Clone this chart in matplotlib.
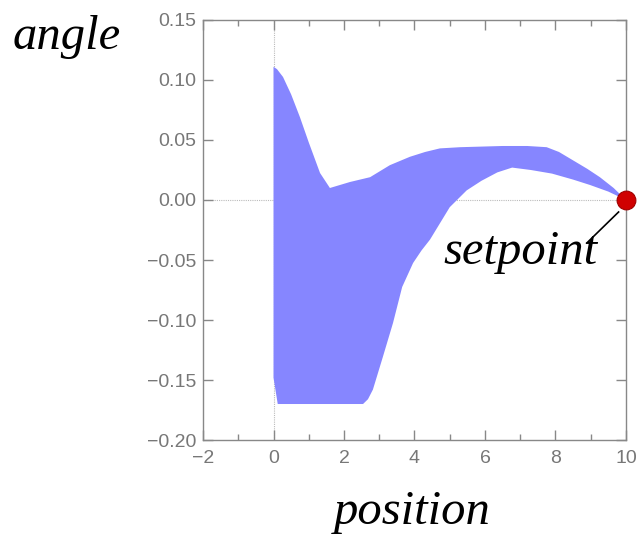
import matplotlib
matplotlib.use("Agg")
import matplotlib.pyplot as plt

# upper and lower edge of the shaded region (position, angle)
upper_x = [0, 0.1, 0.27, 0.5, 0.75, 1.0, 1.32, 1.6, 2.17, 2.74, 3.3, 3.87, 4.3, 4.72, 5.3, 6.5, 7.2, 7.75, 8.1, 8.5, 8.9, 9.26, 9.65, 10]
upper_y = [0.111, 0.109, 0.1025, 0.088, 0.069, 0.048, 0.0225, 0.01, 0.015, 0.019, 0.029, 0.036, 0.040, 0.043, 0.044, 0.045, 0.045, 0.044, 0.04, 0.033, 0.026, 0.019, 0.01, 0.0]
lower_x = [0, 0.12, 2.54, 2.68, 2.82, 3.1, 3.39, 3.65, 3.96, 4.2, 4.44, 5.0, 5.48, 5.9, 6.35, 6.77, 7.3, 7.9, 8.5, 8.98, 9.5, 10]
lower_y = [-0.148, -0.17, -0.17, -0.166, -0.158, -0.131, -0.1025, -0.0725, -0.0525, -0.042, -0.033, -0.006, 0.008, 0.016, 0.023, 0.027, 0.025, 0.022, 0.017, 0.0125, 0.007, 0.0]

setpoint = (10, 0.0)
xticks = [-2, 0, 2, 4, 6, 8, 10]
yticks = [-0.20, -0.15, -0.10, -0.05, 0.00, 0.05, 0.10, 0.15]

fig = plt.figure(figsize=(6.37, 5.37), dpi=100)
ax = fig.add_axes([0.3187, 0.1806, 0.6640, 0.7822])

poly_x = upper_x + lower_x[::-1]
poly_y = upper_y + lower_y[::-1]
ax.fill(poly_x, poly_y, color="#8686ff", lw=0, zorder=2)

ax.axhline(0, color="#bbbbbb", lw=0.8, ls=(0, (1, 1)), zorder=1)
ax.axvline(0, color="#bbbbbb", lw=0.8, ls=(0, (1, 1)), zorder=1)

ax.plot([setpoint[0]], [setpoint[1]], "o", ms=13.5, color="#d00000",
        mec="#a00000", mew=0.8, zorder=5, clip_on=False)
ax.plot([8.89, 9.79], [-0.0358, -0.01], color="black", lw=1.2, zorder=4)

ax.set_xlim(-2, 10)
ax.set_ylim(-0.20, 0.15)
ax.set_xticks(xticks)
ax.set_xticks(range(-1, 10, 2), minor=True)
ax.set_yticks(yticks)
ax.set_yticklabels([f"{v:.2f}".replace("-", "\u2212") for v in yticks])

for s in ax.spines.values():
    s.set_color("#888888")
    s.set_linewidth(1.0)
ax.tick_params(which="both", direction="in", top=True, right=True,
               color="#888888", labelcolor="#777777", labelsize=14,
               labelfontfamily="Liberation Sans")
ax.tick_params(which="major", length=7, width=1.0)
ax.tick_params(which="minor", length=4, width=1.0)
ax.tick_params(axis="x", pad=7)
ax.tick_params(axis="y", pad=5)

fig.text(67 / 637, 1 - 37 / 537, "angle", fontsize=35, style="italic",
         family="Liberation Serif", ha="center", va="center")
fig.text(412 / 637, 1 - 512 / 537, "position", fontsize=35, style="italic",
         family="Liberation Serif", ha="center", va="center")
fig.text(520 / 637, 1 - 252 / 537, "setpoint", fontsize=35, style="italic",
         family="Liberation Serif", ha="center", va="center")

fig.savefig("out.png", dpi=100)
